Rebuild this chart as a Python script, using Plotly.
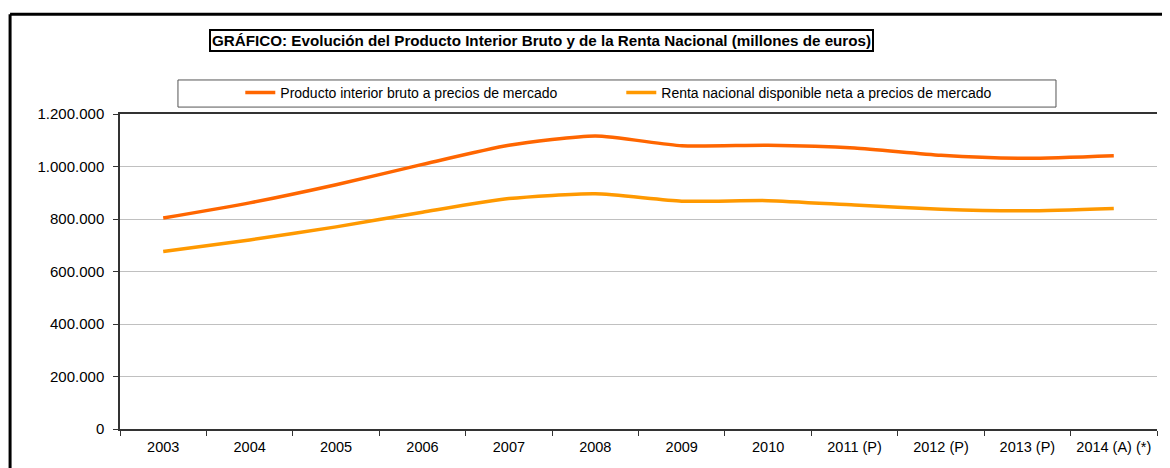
import plotly.graph_objects as go

# categorias y valores (millones de euros)
years = ['2003', '2004', '2005', '2006', '2007', '2008', '2009', '2010',
         '2011 (P)', '2012 (P)', '2013 (P)', '2014 (A) (*)']
pib = [803472, 861420, 930566, 1007974, 1080807, 1116207, 1079034, 1080913,
       1070413, 1042872, 1031272, 1041160]
renta = [676000, 720000, 770000, 826000, 878000, 896000, 868000, 870000,
         853000, 837000, 831000, 840000]
y_ticks = [0, 200000, 400000, 600000, 800000, 1000000, 1200000]
y_labels = ['0', '200.000', '400.000', '600.000', '800.000', '1.000.000', '1.200.000']

FONT = 'Liberation Sans, Arial, sans-serif'

fig = go.Figure()
fig.add_trace(go.Scatter(x=years, y=pib, mode='lines',
                         name='Producto interior bruto a precios de mercado',
                         line=dict(color='#FF6600', width=3.5, shape='spline', smoothing=0.6)))
fig.add_trace(go.Scatter(x=years, y=renta, mode='lines',
                         name='Renta nacional disponible neta a precios de mercado',
                         line=dict(color='#FF9900', width=3.5, shape='spline', smoothing=0.6)))

# la pagina añade 8px de margen al body: se compensa aqui
fig.update_layout(
    width=1162, height=460,
    margin=dict(l=112, r=13, t=106, b=39, autoexpand=False),
    paper_bgcolor='white', plot_bgcolor='white',
    font=dict(family=FONT, size=15, color='#000'),
    showlegend=True,
    legend=dict(orientation='h', x=0.116, xanchor='left', y=1.067, yanchor='middle',
                bgcolor='rgba(0,0,0,0)', borderwidth=0, entrywidth=336,
                font=dict(size=14, family=FONT), itemwidth=30),
)
fig.update_xaxes(type='category', range=[-0.5, 11.5], tickson='boundaries',
                 ticks='outside', ticklen=5, tickcolor='#333', showline=True,
                 linecolor='#333', linewidth=1.5, mirror=True, showgrid=False,
                 tickangle=0, tickfont=dict(size=14.5), ticklabelstandoff=4)
fig.update_yaxes(range=[0, 1200000], tickvals=y_ticks, ticktext=y_labels,
                 ticks='outside', ticklen=5, tickcolor='#333', showline=True,
                 linecolor='#333', linewidth=1.5, gridcolor='#c0c0c0', gridwidth=1,
                 zeroline=False, tickfont=dict(size=15), ticklabelstandoff=6)

# recuadro exterior
fig.add_shape(type='line', xref='paper', yref='paper', x0=-0.106, x1=1.2, y0=1.317, y1=1.317,
              line=dict(color='black', width=3))
fig.add_shape(type='line', xref='paper', yref='paper', x0=-0.106, x1=-0.106, y0=-0.3, y1=1.317,
              line=dict(color='black', width=3))
# recuadro de la leyenda
fig.add_shape(type='rect', xref='paper', yref='paper', x0=0.0559, x1=0.9026, y0=1.022, y1=1.108,
              line=dict(color='#555', width=1), layer='below')

fig.add_annotation(text='<b>GRÁFICO: Evolución del Producto Interior Bruto y de la Renta Nacional (millones de euros)</b>',
                   xref='paper', yref='paper', x=0.406, y=1.232, xanchor='center', yanchor='middle',
                   showarrow=False, font=dict(size=15.2, family=FONT), bordercolor='black',
                   borderwidth=2, borderpad=1, bgcolor='white')

fig.write_html('out.html')
